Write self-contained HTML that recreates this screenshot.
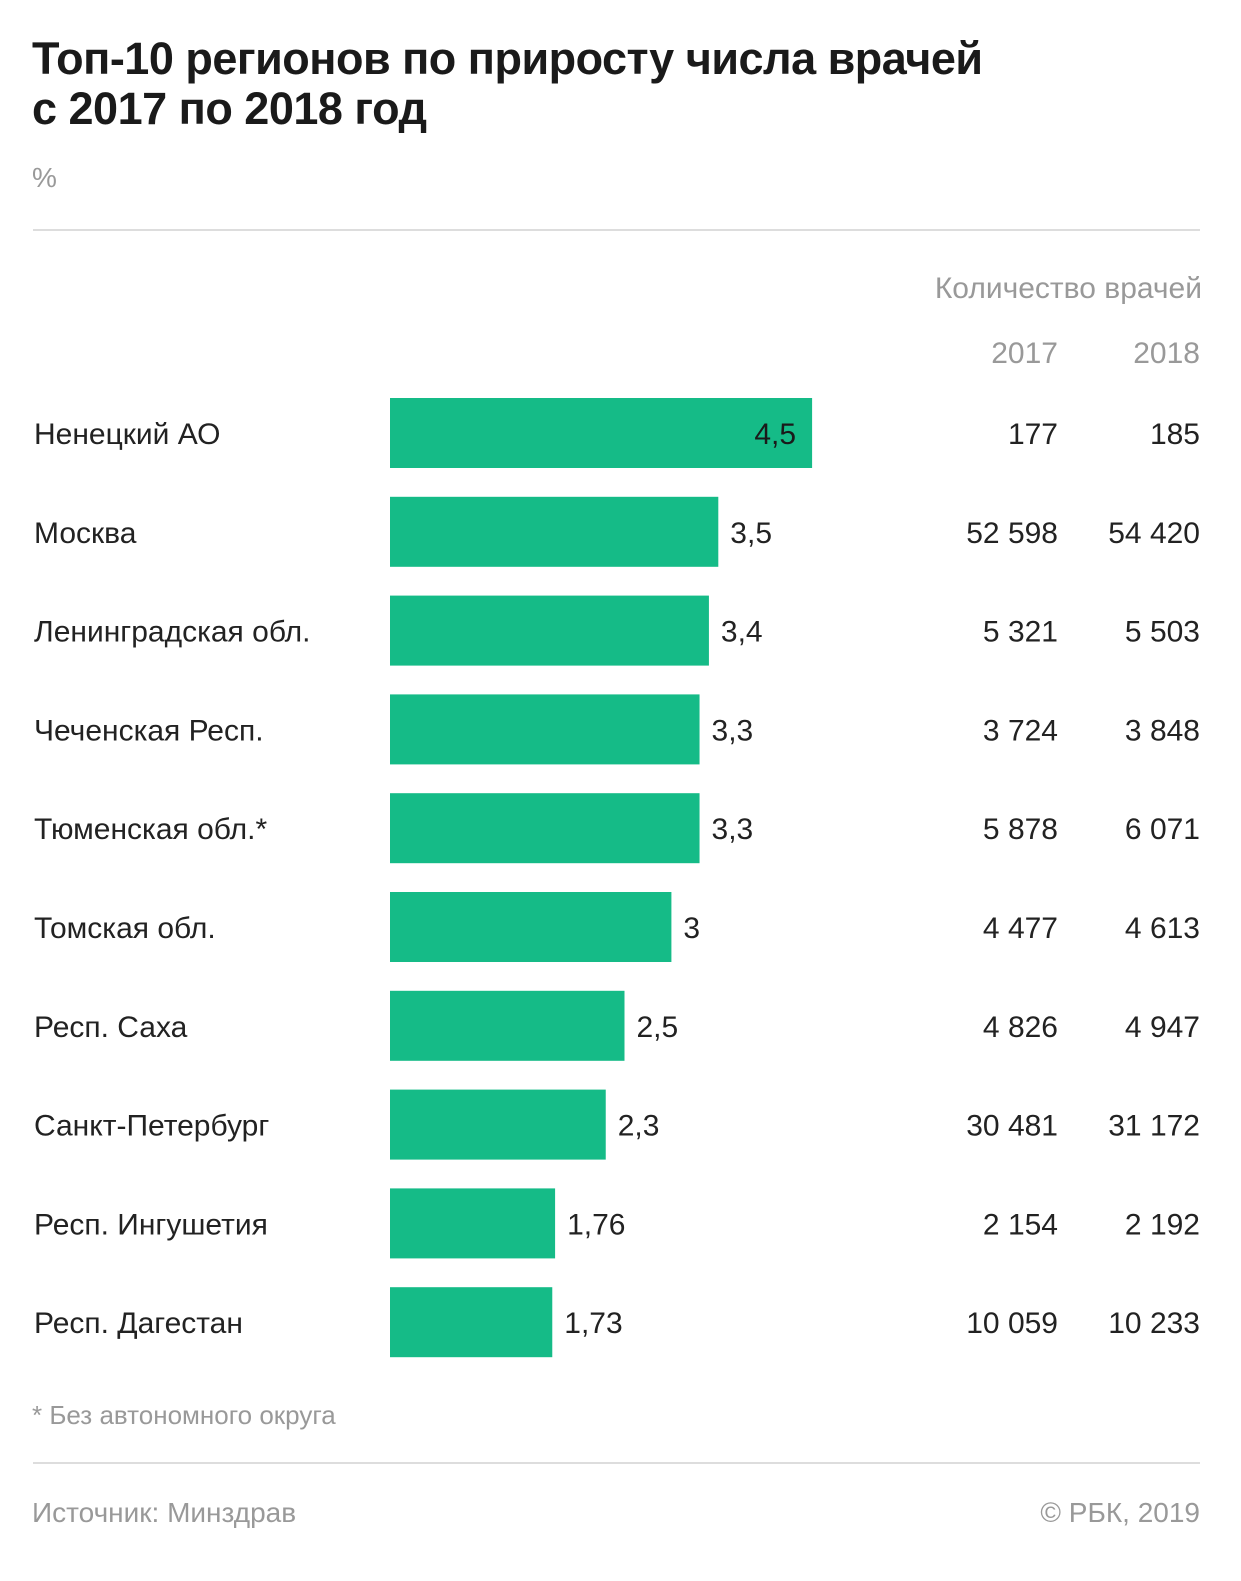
<!DOCTYPE html>
<html><head><meta charset="utf-8">
<style>
body{margin:0;background:#fff;width:1241px;height:1581px;overflow:hidden;font-family:"Liberation Sans",sans-serif;color:#222}
.t{position:absolute;white-space:nowrap}
</style></head><body>
<div class="t" style="left:32px;top:34px;font-size:45px;font-weight:bold;line-height:50px;color:#1a1a1a;letter-spacing:-0.5px">Топ-10 регионов по приросту числа врачей<br>с 2017 по 2018 год</div>
<div class="t" style="left:32px;top:162px;font-size:28px;color:#999">%</div>
<div style="position:absolute;left:33px;top:229px;width:1167px;height:2px;background:#ddd"></div>
<div class="t" style="right:39px;top:272px;font-size:30px;color:#999">Количество врачей</div>
<div class="t" style="right:183px;top:337px;font-size:30px;color:#999">2017</div>
<div class="t" style="right:41px;top:337px;font-size:30px;color:#999">2018</div>
<svg id="chart" width="1241" height="1581" style="position:absolute;left:0;top:0;font-family:'Liberation Sans',sans-serif"></svg>
<div class="t" style="left:32px;top:1400px;font-size:26px;color:#999">* Без автономного округа</div>
<div style="position:absolute;left:33px;top:1462px;width:1167px;height:2px;background:#ddd"></div>
<div class="t" style="left:32px;top:1497px;font-size:28px;color:#999">Источник: Минздрав</div>
<div class="t" style="right:41px;top:1497px;font-size:28px;color:#999">© РБК, 2019</div>
<script>
const regions=["Ненецкий АО","Москва","Ленинградская обл.","Чеченская Респ.","Тюменская обл.*","Томская обл.","Респ. Саха","Санкт-Петербург","Респ. Ингушетия","Респ. Дагестан"];
const growth=[4.5,3.5,3.4,3.3,3.3,3,2.5,2.3,1.76,1.73];
const doctors2017=[177,52598,5321,3724,5878,4477,4826,30481,2154,10059];
const doctors2018=[185,54420,5503,3848,6071,4613,4947,31172,2192,10233];
const svg=document.getElementById('chart');
const NS='http://www.w3.org/2000/svg';
const x0=390, pxPerUnit=93.8, y0=398, step=98.8, barH=70;
const xs=v=>x0+v*pxPerUnit;
const ys=i=>y0+i*step;
const fmtPct=v=>String(v).replace('.',',');
const fmtNum=n=>String(n).replace(/\B(?=(\d{3})+(?!\d))/g,' ');
function txt(x,y,s,anchor,fill){const t=document.createElementNS(NS,'text');t.setAttribute('x',x);t.setAttribute('y',y);t.setAttribute('font-size','30');t.setAttribute('text-anchor',anchor);t.setAttribute('fill',fill);t.textContent=s;svg.appendChild(t);return t;}
regions.forEach((r,i)=>{
 const y=ys(i), cy=y+barH/2+11;
 const rect=document.createElementNS(NS,'rect');
 rect.setAttribute('x',x0);rect.setAttribute('y',y);rect.setAttribute('width',xs(growth[i])-x0);rect.setAttribute('height',barH);rect.setAttribute('fill','#15bb87');
 
 
 svg.appendChild(rect);
 const l=txt(34,cy,r,'start','#222');
 
 
 const end=xs(growth[i]);
 const inside=(end-x0)>400;
 const v=inside?txt(end-16,cy,fmtPct(growth[i]),'end','#1a1a1a'):txt(end+12,cy,fmtPct(growth[i]),'start','#222');
 
 
 const a=txt(1058,cy,fmtNum(doctors2017[i]),'end','#222');
 
 
 const b=txt(1200,cy,fmtNum(doctors2018[i]),'end','#222');
 
 
});
</script>
</body></html>
